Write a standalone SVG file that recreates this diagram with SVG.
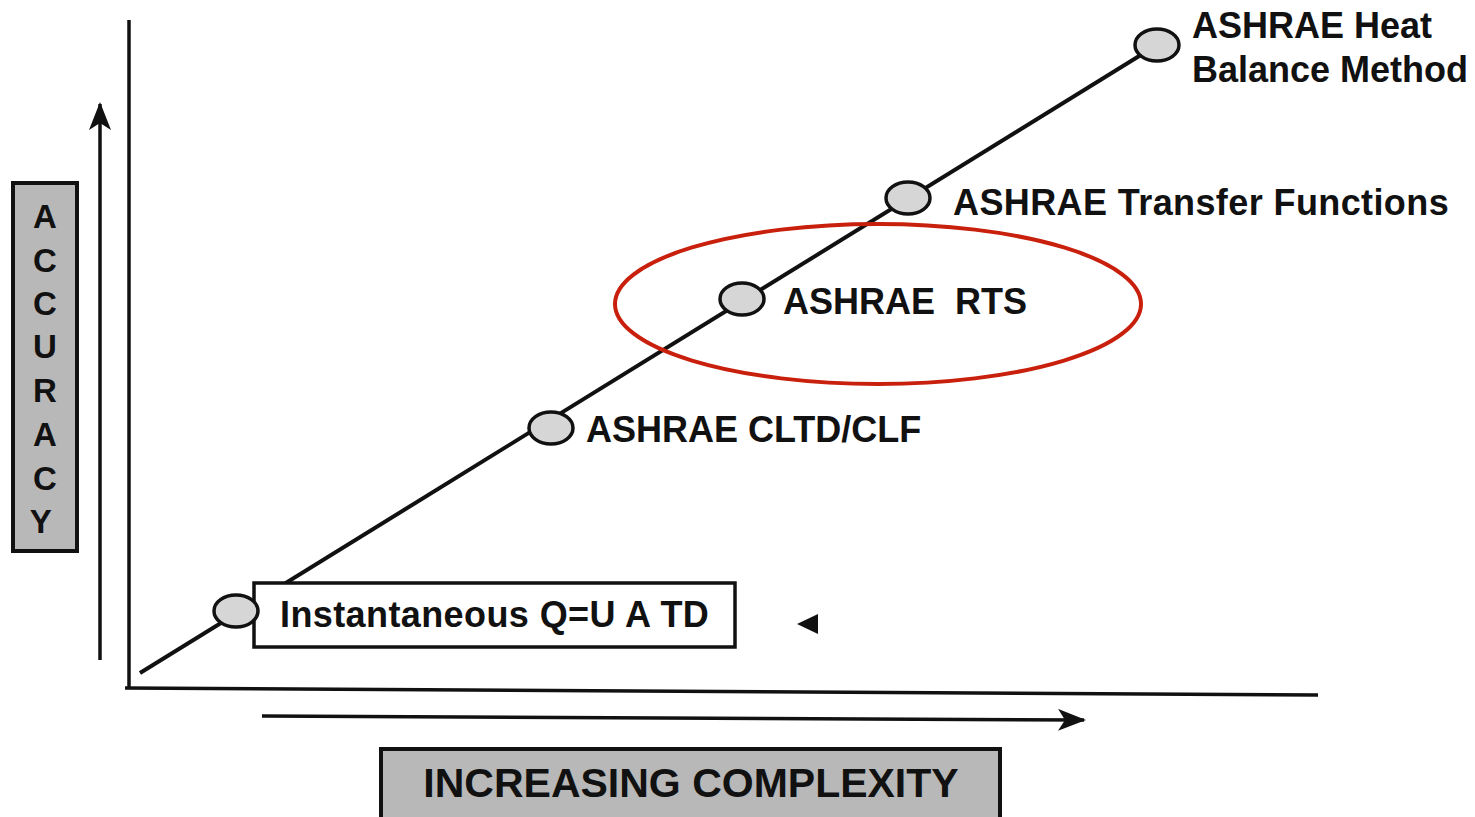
<svg xmlns="http://www.w3.org/2000/svg" width="1475" height="817" viewBox="0 0 1475 817">
<defs>
<style>
.t{font-family:"Liberation Sans",Arial,sans-serif;font-weight:bold;fill:#111;font-size:36px;white-space:pre}
.ln{stroke:#111;stroke-width:3.5;fill:none}
.node{fill:#d6d6d6;stroke:#111;stroke-width:3.5}
.box{fill:#b8b8b8;stroke:#111;stroke-width:4}
</style>
<marker id="ah" viewBox="0 0 28 22" refX="26" refY="11" markerWidth="28" markerHeight="22" markerUnits="userSpaceOnUse" orient="auto">
<path d="M0,0 L28,11 L0,22 L7,11 Z" fill="#111"/>
</marker>
</defs>
<rect width="1475" height="817" fill="#fff"/>
<g id="connectors">
<line class="ln" x1="129" y1="20" x2="129" y2="688"/>
<line class="ln" x1="125" y1="688" x2="1318" y2="695"/>
<line class="ln" x1="100" y1="660" x2="100" y2="104" marker-end="url(#ah)"/>
<line class="ln" x1="262" y1="716" x2="1084" y2="720" marker-end="url(#ah)"/>
<line class="ln" x1="140" y1="673" x2="1157" y2="45" style="stroke-width:4"/>
<path d="M818,614 L818,634 L797,624 Z" fill="#111"/>
</g>
<g id="accuracy">
<rect class="box" x="13" y="183" width="64" height="368"/>
<text class="t" text-anchor="middle" style="font-size:33px">
<tspan x="45" y="228">A</tspan><tspan x="45" y="272">C</tspan><tspan x="45" y="315">C</tspan><tspan x="45" y="358">U</tspan><tspan x="45" y="402">R</tspan><tspan x="45" y="446">A</tspan><tspan x="45" y="490">C</tspan><tspan x="45" y="533">Y</tspan>
</text>
</g>
<g id="complexity">
<rect class="box" x="381" y="749" width="619" height="70"/>
<text class="t" x="691" y="797" text-anchor="middle" style="font-size:41px">INCREASING COMPLEXITY</text>
</g>
<g id="instantaneous">
<rect x="254" y="583" width="481" height="64" fill="#fff" stroke="#111" stroke-width="3.5"/>
<ellipse class="node" cx="236" cy="611" rx="22" ry="16"/>
<text class="t" x="280" y="627" style="letter-spacing:0.4px">Instantaneous Q=U A TD</text>
</g>
<g id="cltd">
<ellipse class="node" cx="551" cy="428" rx="22" ry="16"/>
<text class="t" x="586" y="442">ASHRAE CLTD/CLF</text>
</g>
<g id="rts">
<ellipse class="node" cx="742" cy="299" rx="22" ry="16"/>
<text class="t" x="783" y="314">ASHRAE  RTS</text>
</g>
<g id="transfer">
<ellipse class="node" cx="908" cy="198" rx="22" ry="16"/>
<text class="t" x="953" y="215" style="letter-spacing:0.4px">ASHRAE Transfer Functions</text>
</g>
<g id="heatbalance">
<ellipse class="node" cx="1157" cy="45" rx="22" ry="16"/>
<text class="t" x="1192" y="38">ASHRAE Heat</text>
<text class="t" x="1192" y="82">Balance Method</text>
</g>
<g id="highlight">
<ellipse cx="878" cy="304" rx="263" ry="80" fill="none" stroke="#c8200c" stroke-width="4"/>
</g>
</svg>
